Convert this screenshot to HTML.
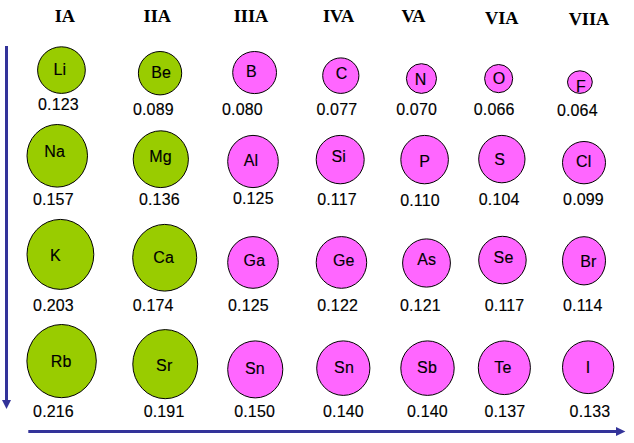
<!DOCTYPE html>
<html lang="en">
<head>
<meta charset="utf-8">
<title>Atomic radii of main-group elements</title>
<style>
html,body{margin:0;padding:0;background:#fff;}
body{width:634px;height:443px;overflow:hidden;}
svg{display:block;}
.h{font-family:"Liberation Serif","Times New Roman",serif;font-weight:bold;font-size:18.3px;fill:#000;text-rendering:geometricPrecision;}
.l{font-family:"Liberation Sans",Arial,sans-serif;font-size:16px;fill:#000;stroke:#000;stroke-width:0.15px;letter-spacing:0.15px;}
.v{font-family:"Liberation Sans",Arial,sans-serif;font-size:16px;fill:#000;stroke:#000;stroke-width:0.15px;letter-spacing:0.15px;}
ellipse{stroke:#000;stroke-width:1;}
</style>
</head>
<body>
<svg width="634" height="443" viewBox="0 0 634 443">
<rect width="634" height="443" fill="#ffffff"/>
<g fill="#333399" stroke="none">
<rect x="5" y="46" width="3" height="355"/>
<polygon points="2,400 11,400 6.5,409"/>
<rect x="28.3" y="430" width="589" height="3"/>
<polygon points="616,427 625.4,431.5 616,436"/>
</g>
<ellipse cx="61.45" cy="70.10" rx="23.85" ry="23.30" fill="#99cc00"/>
<ellipse cx="160.05" cy="73.20" rx="21.65" ry="21.70" fill="#99cc00"/>
<ellipse cx="254.60" cy="72.55" rx="21.90" ry="21.05" fill="#ff66ff"/>
<ellipse cx="340.80" cy="75.65" rx="18.10" ry="17.75" fill="#ff66ff"/>
<ellipse cx="421.45" cy="78.55" rx="15.05" ry="14.85" fill="#ff66ff"/>
<ellipse cx="498.65" cy="78.60" rx="14.05" ry="14.10" fill="#ff66ff"/>
<ellipse cx="579.90" cy="82.10" rx="12.40" ry="11.30" fill="#ff66ff"/>
<ellipse cx="57.25" cy="155.80" rx="30.25" ry="31.30" fill="#99cc00"/>
<ellipse cx="160.80" cy="159.20" rx="27.60" ry="28.40" fill="#99cc00"/>
<ellipse cx="253.00" cy="161.50" rx="25.30" ry="26.10" fill="#ff66ff"/>
<ellipse cx="340.20" cy="159.60" rx="24.00" ry="24.20" fill="#ff66ff"/>
<ellipse cx="424.60" cy="159.60" rx="23.80" ry="24.20" fill="#ff66ff"/>
<ellipse cx="501.85" cy="159.10" rx="23.15" ry="23.70" fill="#ff66ff"/>
<ellipse cx="584.00" cy="162.65" rx="21.50" ry="21.15" fill="#ff66ff"/>
<ellipse cx="60.40" cy="254.40" rx="33.40" ry="35.00" fill="#99cc00"/>
<ellipse cx="164.70" cy="257.75" rx="32.00" ry="33.35" fill="#99cc00"/>
<ellipse cx="253.00" cy="262.45" rx="25.30" ry="25.85" fill="#ff66ff"/>
<ellipse cx="341.45" cy="262.45" rx="25.25" ry="25.85" fill="#ff66ff"/>
<ellipse cx="426.50" cy="263.00" rx="23.90" ry="24.10" fill="#ff66ff"/>
<ellipse cx="502.45" cy="260.05" rx="23.75" ry="23.75" fill="#ff66ff"/>
<ellipse cx="584.00" cy="260.80" rx="21.50" ry="24.10" fill="#ff66ff"/>
<ellipse cx="61.60" cy="361.10" rx="34.70" ry="36.60" fill="#99cc00"/>
<ellipse cx="165.25" cy="364.15" rx="32.45" ry="34.55" fill="#99cc00"/>
<ellipse cx="255.25" cy="369.40" rx="27.55" ry="28.50" fill="#ff66ff"/>
<ellipse cx="343.30" cy="368.15" rx="26.60" ry="27.25" fill="#ff66ff"/>
<ellipse cx="427.50" cy="368.15" rx="26.70" ry="27.25" fill="#ff66ff"/>
<ellipse cx="504.35" cy="367.75" rx="26.05" ry="26.85" fill="#ff66ff"/>
<ellipse cx="588.15" cy="367.25" rx="25.65" ry="26.35" fill="#ff66ff"/>
<text id="h0" class="h" x="64.90" y="22.00" text-anchor="middle">IA</text>
<text id="h1" class="h" x="157.25" y="22.00" text-anchor="middle">IIA</text>
<text id="h2" class="h" x="251.00" y="22.00" text-anchor="middle">IIIA</text>
<text id="h3" class="h" x="338.55" y="22.00" text-anchor="middle">IVA</text>
<text id="h4" class="h" x="413.50" y="22.00" text-anchor="middle">VA</text>
<text id="h5" class="h" x="501.80" y="24.00" text-anchor="middle">VIA</text>
<text id="h6" class="h" x="589.00" y="25.00" text-anchor="middle">VIIA</text>
<text id="l0" class="l" x="59.80" y="75.00" text-anchor="middle">Li</text>
<text id="l1" class="l" x="161.10" y="78.00" text-anchor="middle">Be</text>
<text id="l2" class="l" x="251.45" y="77.00" text-anchor="middle">B</text>
<text id="l3" class="l" x="341.65" y="79.00" text-anchor="middle">C</text>
<text id="l4" class="l" x="420.50" y="85.00" text-anchor="middle">N</text>
<text id="l5" class="l" x="498.95" y="84.00" text-anchor="middle">O</text>
<text id="l6" class="l" x="580.95" y="92.00" text-anchor="middle">F</text>
<text id="l7" class="l" x="54.65" y="157.00" text-anchor="middle">Na</text>
<text id="l8" class="l" x="160.55" y="162.00" text-anchor="middle">Mg</text>
<text id="l9" class="l" x="251.05" y="166.00" text-anchor="middle">Al</text>
<text id="l10" class="l" x="338.70" y="162.00" text-anchor="middle">Si</text>
<text id="l11" class="l" x="424.65" y="167.00" text-anchor="middle">P</text>
<text id="l12" class="l" x="499.60" y="165.00" text-anchor="middle">S</text>
<text id="l13" class="l" x="583.75" y="167.00" text-anchor="middle">Cl</text>
<text id="l14" class="l" x="55.30" y="261.00" text-anchor="middle">K</text>
<text id="l15" class="l" x="163.65" y="263.00" text-anchor="middle">Ca</text>
<text id="l16" class="l" x="254.40" y="266.00" text-anchor="middle">Ga</text>
<text id="l17" class="l" x="343.80" y="266.00" text-anchor="middle">Ge</text>
<text id="l18" class="l" x="426.70" y="265.00" text-anchor="middle">As</text>
<text id="l19" class="l" x="503.55" y="263.00" text-anchor="middle">Se</text>
<text id="l20" class="l" x="588.45" y="267.00" text-anchor="middle">Br</text>
<text id="l21" class="l" x="61.10" y="367.00" text-anchor="middle">Rb</text>
<text id="l22" class="l" x="164.25" y="371.00" text-anchor="middle">Sr</text>
<text id="l23" class="l" x="254.95" y="374.00" text-anchor="middle">Sn</text>
<text id="l24" class="l" x="344.05" y="373.00" text-anchor="middle">Sn</text>
<text id="l25" class="l" x="427.05" y="373.00" text-anchor="middle">Sb</text>
<text id="l26" class="l" x="502.95" y="373.00" text-anchor="middle">Te</text>
<text id="l27" class="l" x="588.05" y="373.00" text-anchor="middle">I</text>
<text id="v0" class="v" x="58.45" y="110.00" text-anchor="middle">0.123</text>
<text id="v1" class="v" x="153.35" y="115.00" text-anchor="middle">0.089</text>
<text id="v2" class="v" x="242.45" y="115.00" text-anchor="middle">0.080</text>
<text id="v3" class="v" x="336.85" y="115.00" text-anchor="middle">0.077</text>
<text id="v4" class="v" x="416.60" y="115.00" text-anchor="middle">0.070</text>
<text id="v5" class="v" x="494.20" y="115.00" text-anchor="middle">0.066</text>
<text id="v6" class="v" x="577.30" y="116.00" text-anchor="middle">0.064</text>
<text id="v7" class="v" x="53.30" y="205.00" text-anchor="middle">0.157</text>
<text id="v8" class="v" x="159.35" y="205.00" text-anchor="middle">0.136</text>
<text id="v9" class="v" x="253.30" y="204.00" text-anchor="middle">0.125</text>
<text id="v10" class="v" x="336.95" y="205.00" text-anchor="middle">0.117</text>
<text id="v11" class="v" x="419.95" y="206.00" text-anchor="middle">0.110</text>
<text id="v12" class="v" x="499.20" y="205.00" text-anchor="middle">0.104</text>
<text id="v13" class="v" x="583.50" y="205.00" text-anchor="middle">0.099</text>
<text id="v14" class="v" x="53.50" y="311.00" text-anchor="middle">0.203</text>
<text id="v15" class="v" x="153.15" y="311.00" text-anchor="middle">0.174</text>
<text id="v16" class="v" x="248.40" y="311.00" text-anchor="middle">0.125</text>
<text id="v17" class="v" x="337.60" y="311.00" text-anchor="middle">0.122</text>
<text id="v18" class="v" x="420.35" y="311.00" text-anchor="middle">0.121</text>
<text id="v19" class="v" x="504.60" y="311.00" text-anchor="middle">0.117</text>
<text id="v20" class="v" x="582.85" y="311.00" text-anchor="middle">0.114</text>
<text id="v21" class="v" x="53.50" y="417.00" text-anchor="middle">0.216</text>
<text id="v22" class="v" x="164.05" y="417.00" text-anchor="middle">0.191</text>
<text id="v23" class="v" x="254.60" y="417.00" text-anchor="middle">0.150</text>
<text id="v24" class="v" x="343.40" y="417.00" text-anchor="middle">0.140</text>
<text id="v25" class="v" x="427.45" y="417.00" text-anchor="middle">0.140</text>
<text id="v26" class="v" x="504.85" y="417.00" text-anchor="middle">0.137</text>
<text id="v27" class="v" x="590.00" y="417.00" text-anchor="middle">0.133</text>
</svg>
</body>
</html>
